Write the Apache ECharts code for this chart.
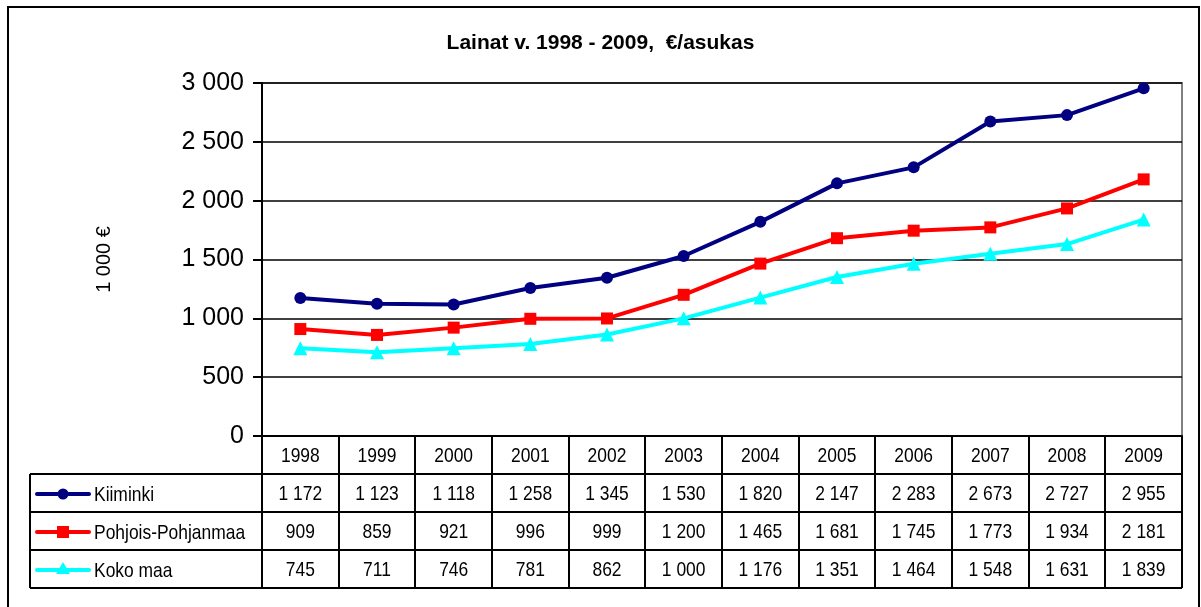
<!DOCTYPE html>
<html>
<head>
<meta charset="utf-8">
<script src="https://cdn.jsdelivr.net/npm/echarts@6/dist/echarts.min.js"></script>
<style>
html,body{margin:0;padding:0;background:#fff;}
#chart{width:1201px;height:607px;}
</style>
</head>
<body>
<div id="chart"></div>
<script>
const years = ['1998','1999','2000','2001','2002','2003','2004','2005','2006','2007','2008','2009'];
const kiiminki = [1172,1123,1118,1258,1345,1530,1820,2147,2283,2673,2727,2955];
const pohjois = [909,859,921,996,999,1200,1465,1681,1745,1773,1934,2181];
const kokoMaa = [745,711,746,781,862,1000,1176,1351,1464,1548,1631,1839];
const seriesNames = ['Kiiminki','Pohjois-Pohjanmaa','Koko maa'];

const SANS = "Liberation Sans";
const ROW = 38;
const NARROW_SCALE = 0.83;

function fmt(v){ return String(v).replace(/\B(?=(\d{3})+(?!\d))/g,' '); }

const chart = echarts.init(document.getElementById('chart'));
const seriesData = [kiiminki, pohjois, kokoMaa];
const colors = ['#000080','#ff0000','#00ffff'];
const symbols = ['circle','rect','triangle'];
const symSizes = [12,12,14];

chart.setOption({
  animation:false,
  backgroundColor:'#fff',
  title:{text:'Lainat v. 1998 - 2009,  €/asukas', left:'center', top:28,
    textStyle:{fontFamily:SANS, fontSize:21, fontWeight:'bold', color:'#000'}},
  grid:{left:262, right:19, top:83, bottom:171, show:true, borderColor:'#808080', borderWidth:2, backgroundColor:'#fff'},
  legend:{show:false, data:seriesNames},
  xAxis:{type:'category', data:years, boundaryGap:true, position:'bottom',
      axisLine:{lineStyle:{color:'#000', width:2}}, axisTick:{show:false},
      axisLabel:{show:false}},
  yAxis:{type:'value', min:0, max:3000, interval:500,
    name:'1 000 €', nameLocation:'middle', nameRotate:90, nameGap:148,
    nameTextStyle:{fontFamily:SANS, fontSize:20, color:'#000'},
    axisLine:{show:true, lineStyle:{color:'#000', width:2}},
    axisTick:{show:true, length:9, lineStyle:{color:'#000', width:2}},
    axisLabel:{fontFamily:SANS, fontSize:25, color:'#000', margin:18, formatter:v=>fmt(v)},
    splitLine:{show:true, lineStyle:{color:'#000', width:1.5}}},
  series: seriesNames.map((n,i)=>({
    name:n, type:'line', data:seriesData[i], symbol:symbols[i], symbolSize:symSizes[i],
    itemStyle:{color:colors[i]}, lineStyle:{color:colors[i], width:4}
  }))
});

// Data table built from the axis scale
const p0 = chart.convertToPixel({xAxisIndex:0}, years[0]);
const p1 = chart.convertToPixel({xAxisIndex:0}, years[1]);
const band = p1 - p0;
const xLeft = p0 - band/2;
const xRight = chart.convertToPixel({xAxisIndex:0}, years[years.length-1]) + band/2;
const yBase = chart.convertToPixel({yAxisIndex:0}, 0);
const yBottom = yBase + ROW*4;
const legendLeft = 30;
const g = [];
const ls = {stroke:'#000', lineWidth:2};
for(let i=0;i<=years.length;i++){
  const x = Math.round(xLeft + band*i);
  g.push({type:'line', shape:{x1:x,y1:yBase,x2:x,y2:yBottom}, style:ls, z:100});
}
for(let r=1;r<=4;r++){
  const y = Math.round(yBase + ROW*r);
  g.push({type:'line', shape:{x1:legendLeft,y1:y,x2:xRight,y2:y}, style:ls, z:100});
}
g.push({type:'line', shape:{x1:legendLeft,y1:yBase+ROW,x2:legendLeft,y2:yBottom}, style:ls, z:100});

function cellText(txt, x, y, align){
  return {type:'text', x:x, y:y, scaleX:NARROW_SCALE, z:101,
    style:{text:txt, fontFamily:SANS, fontSize:21, fill:'#000', align:align||'center', verticalAlign:'middle'}};
}
years.forEach((yr,i)=>{
  const cx = chart.convertToPixel({xAxisIndex:0}, yr);
  g.push(cellText(yr, cx, yBase + ROW*0.5 + 1));
  seriesData.forEach((arr,r)=>{
    g.push(cellText(fmt(arr[i]), cx, yBase + ROW*(r+1.5) + 1));
  });
});
// legend keys in the table's left column
seriesNames.forEach((n,r)=>{
  const cy = Math.round(yBase + ROW*(r+1.5)) + 1;
  g.push({type:'line', shape:{x1:37,y1:cy,x2:89,y2:cy}, style:{stroke:colors[r], lineWidth:4, lineCap:'round'}, z:101});
  if(r===0) g.push({type:'circle', shape:{cx:63,cy:cy,r:5.5}, style:{fill:colors[r]}, z:102});
  if(r===1) g.push({type:'rect', shape:{x:57,y:cy-6,width:12,height:12}, style:{fill:colors[r]}, z:102});
  if(r===2) g.push({type:'polygon', shape:{points:[[63,cy-8],[70,cy+4],[56,cy+4]]}, style:{fill:colors[r]}, z:102});
  g.push(cellText(n, 94, cy + 1, 'left'));
});
g.push({type:'rect', shape:{x:8,y:7,width:1191,height:640}, style:{fill:null, stroke:'#000', lineWidth:2}, z:100});
chart.setOption({graphic:g});
</script>
</body>
</html>
